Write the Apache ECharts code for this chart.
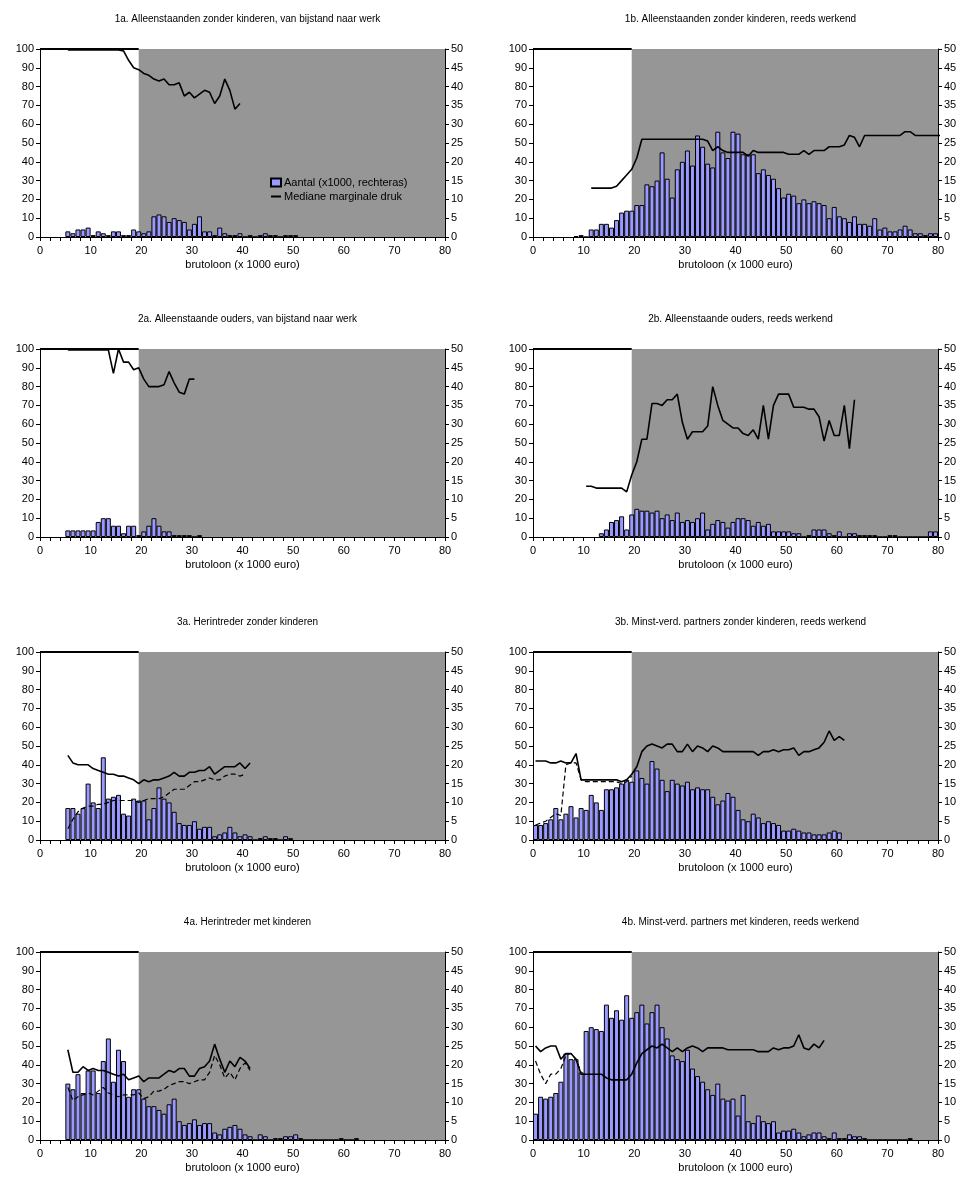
<!DOCTYPE html>
<html><head><meta charset="utf-8">
<script src="https://cdn.jsdelivr.net/npm/echarts@6/dist/echarts.min.js"></script>
<style>html,body{margin:0;background:#fff}#c{width:965px;height:1191px}</style>
</head><body><div id="c"></div>
<script>
// aantal (x1000, right axis), one bar per 1000 euro, starting at bin "start"
const bars1a = [1.5,1,2,2,2.5,0.5,1.5,1,0.5,1.5,1.5,0.5,0.5,2,1.5,1,1.5,5.5,6,5.5,4,5,4.5,4,2,3.5,5.5,1.5,1.5,0.5,2.5,1,0.5,0.5,1,0,0.5,0,0.5,1,0.5,0.5,0,0.5,0.5,0.5];
const bars1b = [0.25,0.5,0,2,2,3.5,3.5,2.5,4.5,6.5,7,7,8.5,8.5,14,13.5,15,22.5,15.5,10.5,18,20,23,19,27,24,19.5,18.5,28,22.5,21,28,27.5,22,22,22,17,18,16.5,15.5,13,10.5,11.5,11,9,10,9,9.5,9,8.5,5,8,5.5,5,4,5.5,3.5,3.5,3,5,2,2.5,1.5,1.5,2,3,2,1,1,0.5,1,1];
const bars2a = [1.75,1.75,1.75,1.75,1.75,1.75,4,5,5,3,3,1,3,3,0.5,1.5,3,5,3,1.5,1.5,0.5,0.5,0.5,0.5,0,0.5];
const bars2b = [1,2,4,4.5,5.5,2,6,7.5,7,7,6.5,7,5,6,4.5,6.5,4,4.5,4,5,6.5,2,3.5,4.5,4,2.5,4,5,5,4.5,3,4,3,3.5,1.5,1.5,1.5,1.5,1,1,0,0.5,2,2,2,1,0.5,1.5,0,1,1,0.5,0.5,0.5,0.5,0,0,0.5,0.5,0,0,0,0,0,0,1.5,1.5];
const bars3a = [8.5,8.5,7,8.5,15,10,8.5,22,11,11.5,12,7,6.5,11,10.5,10.5,5.5,8.5,14,11,10,7.5,4.5,4,4,5,3,3.5,3.5,1,1.5,2,3.5,2,1,1.5,1,0,0.5,1,0.5,0.5,0,1,0.5];
const bars3b = [4,4,4.5,5.5,8.5,5.5,7,9,6,8.5,8,12,10,8,13.5,13.5,14,15,16,15.5,18.5,16.5,15,21,19,16,13,16,15,14.5,15.5,13.5,14,13.5,13.5,11.5,9.5,10.5,12.5,11.5,8,5.5,5,7,6,4.5,5,4.5,4,2.5,2.5,3,2.5,2,2,1.5,1.5,1.5,2,2.5,2];
const bars4a = [15,13.5,17.5,12.5,18.5,18.5,12.5,21,27,15.5,24,21,11.5,13.5,13.5,11,9,9,8,7,9.5,11,5,4,4.5,5.5,4,4.5,4.5,2,1.5,3,3.5,4,3,1.5,1,0,1.5,1,0,0.5,0.5,1,1,1.5,0.5,0,0,0,0,0,0,0,0.5,0,0,0.5];
const bars4b = [7,11.5,11,11.5,12.5,15.5,23,21.5,21.5,18,29,30,29.5,29,36,32.5,34.5,32,38.5,32.5,34,36,31,34,36,30,27,22.5,21.5,21,24,19,17,15.5,13.5,12,15,11,10.5,11,6.5,12,5,4.5,6.5,5,4.5,5,2,2.5,2.5,3,2,1,1.5,2,2,1,0.5,2,0.5,0.5,1.5,1,1,0.5,0,0,0,0,0,0,0,0,0.5];
// mediane marginale druk (%, left axis)
const druk1a = [99.5,99.5,99.5,99.5,99.5,99.5,99.5,99.5,99.5,99.5,99.5,99,94,90,89,87,86,84,83,84,81,81,82,75,77,74,76,78,77,71,75,84,78,68,71];
const druk1b = [26,26,26,26,26,27,30,33,36,42,52,52,52,52,52,52,52,52,52,52,52,52,52,51,46,48,46,45,45,45,45,43,46,45,45,45,45,45,45,44,44,44,46,44,46,46,46,48,48,48,49,54,53,48,54,54,54,54,54,54,54,54,56,56,54,54,54,54,54,54];
const druk2a = [99.5,99.5,99.5,99.5,99.5,99.5,99.5,99.5,99.5,87,100,93,93,89,90,84,80,80,80,81,88,82,77,76,84,84];
const druk2b = [27,27,26,26,26,26,26,26,24,33,40,52,52,71,71,70,73,73,76,61,52,56,56,56,59,80,70,62,60,58,58,55,54,57,52,70,52,70,76,76,76,69,69,69,68,68,64,51,62,54,54,70,47,73];
const druk3a = [45,41,40,40,40,38,37,36,35,35,34,34,33,32,30,32,31,32,32,33,34,36,34,34,36,36,37,37,39,35,37,39,39,39,41,38,41];
const alt3a = [6,11,15,17,18,18,19,19,20,21,21,21,21,21,20,21,22,22,22,23,25,27,27,27,29,31,31,32,33,32,32,34,35,35,34,35];
const druk3b = [42,42,42,41,41,42,41,41,46,32,32,32,32,32,32,32,32,31,32,35,39,47,50,51,50,49,51,51,47,47,51,47,50,49,47,50,49,47,47,47,47,47,47,47,45,47,47,48,47,48,48,49,45,47,47,48,49,52,58,53,55,53];
const alt3b = [8,9,10,12,14,13,40,41,41,32,31,31,31,31,31,31,31,30,31,34];
const druk4a = [48,36,36,39,37,38,37,37,36,35,34,35,32,33,34,31,33,33,33,35,37,36,38,38,34,34,38,39,42,51,43,36,42,39,44,42,38];
const alt4a = [28,21,23,24,25,24,26,28,25,24,23,24,24,24,25,22,23,26,26,27,29,30,31,31,30,31,32,32,36,45,40,33,36,32,38,41,37];
const druk4b = [50,47,49,50,50,43,46,46,43,35,35,35,35,35,33,32,32,32,32,35,41,46,48,50,49,51,49,47,49,47,49,50,49,47,49,49,49,49,48,48,48,48,48,48,47,47,47,49,48,49,49,50,56,49,48,51,49,53];
const alt4b = [42,35,30,35,35,38,45,46,43,36];

const titles = ['1a. Alleenstaanden zonder kinderen, van bijstand naar werk','1b. Alleenstaanden zonder kinderen, reeds werkend',
  '2a. Alleenstaande ouders, van bijstand naar werk','2b. Alleenstaande ouders, reeds werkend',
  '3a. Herintreder zonder kinderen','3b. Minst-verd. partners zonder kinderen, reeds werkend',
  '4a. Herintreder met kinderen','4b. Minst-verd. partners met kinderen, reeds werkend'];
const panels = [
  {bars: bars1a, bStart: 5, line: druk1a, lStart: 5},
  {bars: bars1b, bStart: 8, line: druk1b, lStart: 11},
  {bars: bars2a, bStart: 5, line: druk2a, lStart: 5},
  {bars: bars2b, bStart: 13, line: druk2b, lStart: 10},
  {bars: bars3a, bStart: 5, line: druk3a, lStart: 5, alt: alt3a, aStart: 5},
  {bars: bars3b, bStart: 0, line: druk3b, lStart: 0, alt: alt3b, aStart: 0},
  {bars: bars4a, bStart: 5, line: druk4a, lStart: 5, alt: alt4a, aStart: 5},
  {bars: bars4b, bStart: 0, line: druk4b, lStart: 0, alt: alt4b, aStart: 0}
];

const lefts = [40, 533];
const tops = [49, 349, 652, 952];
const W = 405, H = 188;
const font = {fontFamily: 'Liberation Sans', fontSize: 11, color: '#000'};
const grid = [], xAxis = [], yAxis = [], series = [], title = [];
const pts = (arr, start) => arr.map((v, i) => [start + i + 0.5, v]);

panels.forEach((p, i) => {
  const col = i % 2, row = Math.floor(i / 2);
  grid.push({left: lefts[col], top: tops[row], width: W, height: H});
  title.push({text: titles[i], left: lefts[col] + W / 2, top: tops[row] - 40, textAlign: 'center',
    textStyle: {fontFamily: 'Liberation Sans', fontSize: 10, fontWeight: 'normal', color: '#000'}});
  xAxis.push({type: 'value', gridIndex: i, min: 0, max: 80, interval: 2,
    name: 'brutoloon (x 1000 euro)', nameLocation: 'middle', nameGap: 22,
    nameTextStyle: {fontFamily: 'Liberation Sans', fontSize: 11, color: '#000'},
    axisLine: {lineStyle: {color: '#000'}}, axisTick: {length: 4, lineStyle: {color: '#000'}},
    axisLabel: Object.assign({margin: 8, formatter: v => v % 10 === 0 ? v : ''}, font),
    splitLine: {show: false}});
  yAxis.push({type: 'value', gridIndex: i, min: 0, max: 100, interval: 10,
    axisLine: {show: true, lineStyle: {color: '#000'}}, axisTick: {show: true, length: 4, lineStyle: {color: '#000'}},
    axisLabel: Object.assign({margin: 6}, font), splitLine: {show: false}});
  yAxis.push({type: 'value', gridIndex: i, position: 'right', min: 0, max: 50, interval: 5,
    axisLine: {show: true, lineStyle: {color: '#000'}}, axisTick: {show: true, length: 4, lineStyle: {color: '#000'}},
    axisLabel: Object.assign({margin: 6}, font), splitLine: {show: false}});
  series.push({type: 'line', xAxisIndex: i, yAxisIndex: 2 * i, data: [], silent: true,
    markArea: {silent: true, itemStyle: {color: '#969696'}, data: [[{coord: [19.5, 0]}, {coord: [80, 100]}]]},
    markLine: {silent: true, symbol: 'none', label: {show: false}, lineStyle: {color: '#000', width: 2, type: 'solid'},
      data: [[{coord: [0, 100]}, {coord: [19.5, 100]}]]}});
  series.push({type: 'bar', name: 'Aantal (x1000, rechteras)', xAxisIndex: i, yAxisIndex: 2 * i + 1,
    data: pts(p.bars, p.bStart), barWidth: 5, z: 3,
    itemStyle: {color: '#9999ff', borderColor: '#000', borderWidth: 1}});
  if (p.alt) series.push({type: 'line', name: 'alt', xAxisIndex: i, yAxisIndex: 2 * i, data: pts(p.alt, p.aStart),
    symbol: 'none', z: 4, lineStyle: {color: '#000', width: 1.2, type: [5, 3]}});
  series.push({type: 'line', name: 'Mediane marginale druk', xAxisIndex: i, yAxisIndex: 2 * i,
    data: pts(p.line, p.lStart), symbol: 'none', z: 5, lineStyle: {color: '#000', width: 1.6}, itemStyle: {color: '#000'}});
});

const chart = echarts.init(document.getElementById('c'));
chart.setOption({
  animation: false, title, grid, xAxis, yAxis, series,
  legend: {data: [{name: 'Aantal (x1000, rechteras)', icon: 'rect'},
      {name: 'Mediane marginale druk', icon: 'path://M0,4L10,4L10,6L0,6Z', itemStyle: {color: '#000', borderWidth: 0}}],
    orient: 'vertical', left: 265, top: 172, itemGap: 3, itemWidth: 10, itemHeight: 8,
    textStyle: {fontFamily: 'Liberation Sans', fontSize: 11, color: '#000', padding: [0, 0, 0, -2]}}
});
</script></body></html>
